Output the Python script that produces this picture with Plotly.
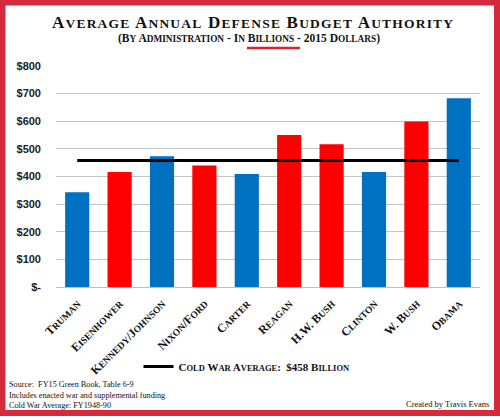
import plotly.graph_objects as go

# administrations, average annual budget authority ($B, 2015 dollars)
presidents = ['Truman', 'Eisenhower', 'Kennedy/Johnson', 'Nixon/Ford', 'Carter',
              'Reagan', 'H.W. Bush', 'Clinton', 'W. Bush', 'Obama']
budget = [343, 416, 473, 440, 409, 550, 517, 416, 599, 683]
party = ['D', 'R', 'D', 'R', 'D', 'R', 'R', 'D', 'R', 'D']
cold_war_avg = 458

ytickvals = [0, 100, 200, 300, 400, 500, 600, 700, 800]
yticktext = ['$-', '$100', '$200', '$300', '$400', '$500', '$600', '$700', '$800']

party_colors = {'D': '#0070c0', 'R': '#ff0000'}

W, H = 500, 420
L, R, T, B = 56, 20, 66, 133
PW, PH = W - L - R, H - T - B


def px_x(p):
    return (p - L) / PW


def px_y(p):
    return (H - B - p) / PH


def smallcaps(text, small, spacing=None):
    # uppercase letters stay big, lowercase become smaller capitals
    out, run = '', ''
    for ch in text:
        if ch.islower():
            run += ch.upper()
        else:
            if run:
                out += '<span style="font-size:%spx">%s</span>' % (small, run)
                run = ''
            out += ch
    if run:
        out += '<span style="font-size:%spx">%s</span>' % (small, run)
    if spacing:
        out = '<span style="letter-spacing:%spx">%s</span>' % (spacing, out)
    return out


serif = 'Liberation Serif, Times New Roman, serif'

bars = go.Bar(
    x=presidents,
    y=budget,
    marker=dict(color=[party_colors[p] for p in party], line=dict(width=0)),
    width=0.57,
    showlegend=False,
    hoverinfo='x+y',
)

avgline = go.Scatter(
    x=[presidents[0], presidents[-1]],
    y=[cold_war_avg, cold_war_avg],
    mode='lines',
    line=dict(color='black', width=3),
    name=smallcaps('Cold War Average:  $%d Billion' % cold_war_avg, 8.5),
)

fig = go.Figure(data=[bars, avgline])

title = smallcaps('Average Annual Defense Budget Authority', 13.5, spacing=1.2)
subtitle = smallcaps('(By Administration - In Billions - 2015 Dollars)', 9.3)

fig.update_layout(
    template='none',
    width=W, height=H,
    margin=dict(l=L, r=R, t=T, b=B, autoexpand=False),
    paper_bgcolor='white', plot_bgcolor='white',
    xaxis=dict(
        tickvals=presidents,
        ticktext=[smallcaps(p, 9.5) for p in presidents],
        tickangle=-45,
        tickfont=dict(family=serif, size=12, color='#111', weight='bold'),
        showgrid=False, showline=True, linecolor='#bfbfbf', linewidth=1,
        ticks='', automargin=False, ticklabelstandoff=4,
    ),
    yaxis=dict(
        range=[0, 800],
        tickvals=ytickvals, ticktext=yticktext,
        tickfont=dict(family='Liberation Sans, Arial, sans-serif', size=11,
                      color='#222', weight='bold'),
        showgrid=True, gridcolor='#c4c4c4', gridwidth=1,
        zeroline=False, ticks='', automargin=False, fixedrange=True,
        ticklabelstandoff=14,
    ),
    bargap=0.43,
    legend=dict(
        orientation='h', x=px_x(247), y=px_y(366.5),
        xanchor='center', yanchor='middle',
        font=dict(family=serif, size=11, color='#111', weight='bold'),
        itemwidth=30, bgcolor='rgba(0,0,0,0)',
    ),
    annotations=[
        dict(text='<b>%s</b>' % title, xref='paper', yref='paper',
             x=px_x(253), y=px_y(22), xanchor='center', yanchor='middle',
             showarrow=False, font=dict(family=serif, size=17, color='#111')),
        dict(text='<b>%s</b>' % subtitle, xref='paper', yref='paper',
             x=px_x(249), y=px_y(38), xanchor='center', yanchor='middle',
             showarrow=False, font=dict(family=serif, size=11.5, color='#111')),
        dict(text='Source:  FY15 Green Book, Table 6-9<br>'
                  'Includes enacted war and supplemental funding<br>'
                  'Cold War Average: FY1948-90',
             xref='paper', yref='paper', x=px_x(7), y=px_y(378),
             xanchor='left', yanchor='top', align='left', showarrow=False,
             font=dict(family=serif, size=8.2, color='#111')),
        dict(text='Created by Travis Evans', xref='paper', yref='paper',
             x=px_x(491), y=px_y(404), xanchor='right', yanchor='middle',
             showarrow=False, font=dict(family=serif, size=8.5, color='#111')),
    ],
    shapes=[
        # red underline under "Billions"
        dict(type='line', xref='paper', yref='paper',
             x0=px_x(247), x1=px_x(300), y0=px_y(48), y1=px_y(48),
             line=dict(color='#e0202a', width=2.5)),
        # page border
        dict(type='rect', xref='paper', yref='paper',
             x0=px_x(2.5), x1=px_x(W - 3), y0=px_y(2.5), y1=px_y(H - 7),
             line=dict(color='#d42a3b', width=6)),
    ],
    hovermode='closest',
)

# drop the browser's default body margin so the figure sits at 0,0
fig.write_html('out.html', config={'displayModeBar': False},
               post_script="document.body.style.margin='0';")
